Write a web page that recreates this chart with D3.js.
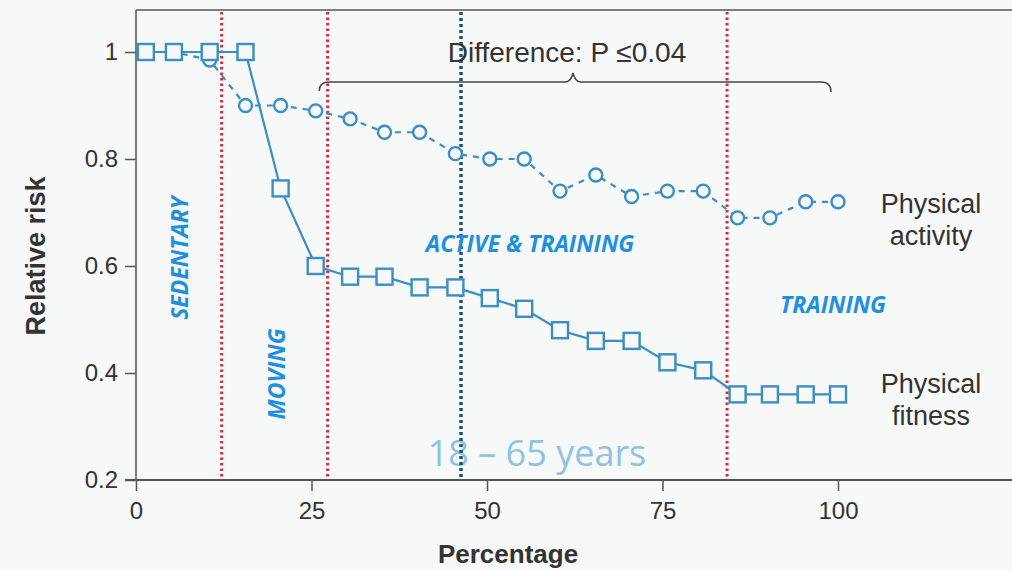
<!DOCTYPE html>
<html><head><meta charset="utf-8">
<script src="https://cdn.jsdelivr.net/npm/d3@7"></script>
<style>
html,body{margin:0;padding:0;background:#f7f8f8;}
svg{display:block;}
</style></head>
<body>
<svg id="chart" width="1012" height="570"></svg>
<script>
// ---- data ----
const percentiles = [1.4, 5.4, 10.5, 15.6, 20.6, 25.6, 30.5, 35.4, 40.4, 45.5, 50.4, 55.3, 60.4, 65.5, 70.6, 75.7, 80.8, 85.7, 90.3, 95.4, 100];
const fitnessRisk = [1.0, 1.0, 1.0, 1.0, 0.745, 0.60, 0.58, 0.58, 0.56, 0.56, 0.54, 0.52, 0.48, 0.46, 0.46, 0.42, 0.405, 0.36, 0.36, 0.36, 0.36];
const activityRisk = [1.0, 1.0, 0.985, 0.90, 0.90, 0.89, 0.875, 0.85, 0.85, 0.81, 0.80, 0.80, 0.74, 0.77, 0.73, 0.74, 0.74, 0.69, 0.69, 0.72, 0.72];
const xTicks = [0, 25, 50, 75, 100];
const yTicks = [0.2, 0.4, 0.6, 0.8, 1];
const zoneBoundaries = [12.2, 27.3, 84.2];
const medianLine = 46.3;
const zoneLabels = ["SEDENTARY", "MOVING", "ACTIVE & TRAINING", "TRAINING"];
const seriesNames = [["Physical", "activity"], ["Physical", "fitness"]];
const diffLabel = "Difference: P \u22640.04";
const braceRange = [26.1, 99];
const ageLabel = "18 \u2013 65 years";

// ---- layout ----
const svg = d3.select("#chart");
const x = d3.scaleLinear().domain([0, 100]).range([136, 838]);
const y = d3.scaleLinear().domain([0.2, 1]).range([480, 52]);
const topY = 10;
const axisCol = "#555";
const seriesCol = "#3a8dc6";
const zoneCol = "#1f8fe0";
const sans = "'Liberation Sans', Arial, sans-serif";

// frame
svg.append("line").attr("x1", x(0)).attr("x2", 1012).attr("y1", topY).attr("y2", topY)
  .attr("stroke", axisCol).attr("stroke-width", 1.5);

// axes
const yAxis = d3.axisLeft(y).tickValues(yTicks).tickFormat(d => d === 1 ? "1" : d3.format(".1f")(d)).tickSize(11).tickPadding(7);
const gy = svg.append("g").attr("transform", `translate(${x(0)},0)`).call(yAxis);
gy.select(".domain").remove();
svg.append("line").attr("x1", x(0)).attr("x2", x(0)).attr("y1", topY).attr("y2", y(0.2))
  .attr("stroke", axisCol).attr("stroke-width", 1.5);

const xAxis = d3.axisBottom(x).tickValues(xTicks).tickSize(11).tickPadding(11);
const gx = svg.append("g").attr("transform", `translate(0,${y(0.2)})`).call(xAxis);
gx.select(".domain").remove();
svg.append("line").attr("x1", x(0) - 11).attr("x2", 1012).attr("y1", y(0.2)).attr("y2", y(0.2))
  .attr("stroke", axisCol).attr("stroke-width", 2);

[gx, gy].forEach(g => {
  g.selectAll(".tick line").attr("stroke", axisCol).attr("stroke-width", 1.5);
  g.selectAll(".tick text").attr("fill", "#333").style("font-family", sans).style("font-size", "24px");
});

// axis titles
svg.append("text").attr("x", 508).attr("y", 563).attr("text-anchor", "middle")
  .style("font-family", sans).style("font-size", "26px").style("font-weight", "bold")
  .attr("fill", "#333").text("Percentage");
svg.append("text").attr("transform", `translate(45,${256}) rotate(-90)`).attr("text-anchor", "middle")
  .style("font-family", sans).style("font-size", "27px").style("font-weight", "bold")
  .attr("fill", "#333").text("Relative risk");

// age label (behind lines)
svg.append("text").attr("x", 537).attr("y", 466).attr("text-anchor", "middle")
  .style("font-family", "'Open Sans', Lato, sans-serif").style("font-size", "36px")
  .attr("fill", "#92c2e2").text(ageLabel);

// zone boundaries
zoneBoundaries.forEach(v => {
  svg.append("line").attr("x1", x(v)).attr("x2", x(v)).attr("y1", topY + 2).attr("y2", y(0.2))
    .attr("stroke", "#d42a3a").attr("stroke-width", 3).attr("stroke-dasharray", "2.5,3");
});
svg.append("line").attr("x1", x(medianLine)).attr("x2", x(medianLine)).attr("y1", topY + 2).attr("y2", y(0.2))
  .attr("stroke", "#1d4f7c").attr("stroke-width", 3.5).attr("stroke-dasharray", "3,3");

// zone labels
const zf = "'Open Sans', Lato, sans-serif";
function zoneText(sel, t) {
  return sel.append("text").attr("text-anchor", "middle")
    .style("font-family", zf).style("font-size", "23px").style("font-weight", "bold").style("font-style", "italic")
    .attr("fill", zoneCol).text(t);
}
zoneText(svg, zoneLabels[0]).attr("transform", `translate(188,258) rotate(-90)`);
zoneText(svg, zoneLabels[1]).attr("transform", `translate(285,374) rotate(-90)`);
zoneText(svg, zoneLabels[2]).attr("x", 530).attr("y", 252);
zoneText(svg, zoneLabels[3]).attr("x", 833).attr("y", 313);

// brace
const bx0 = x(braceRange[0]), bx1 = x(braceRange[1]), bmid = 573, by = 82;
const bracePath = `M${bx0},${by + 9} Q${bx0},${by} ${bx0 + 10},${by} L${bmid - 8},${by} Q${bmid - 2},${by} ${bmid},${by - 9} Q${bmid + 2},${by} ${bmid + 8},${by} L${bx1 - 10},${by} Q${bx1},${by} ${bx1},${by + 10}`;
svg.append("path").attr("d", bracePath).attr("fill", "none").attr("stroke", "#444").attr("stroke-width", 1.5);
svg.append("text").attr("x", 567).attr("y", 62).attr("text-anchor", "middle")
  .style("font-family", sans).style("font-size", "28px")
  .attr("fill", "#333").text(diffLabel);

// series
const actData = percentiles.map((p, i) => [p, activityRisk[i]]);
const fitData = percentiles.map((p, i) => [p, fitnessRisk[i]]);
const line = d3.line().x(d => x(d[0])).y(d => y(d[1]));

svg.append("path").datum(actData).attr("d", line).attr("fill", "none")
  .attr("stroke", seriesCol).attr("stroke-width", 2.2).attr("stroke-dasharray", "6,6");
svg.selectAll("circle.act").data(actData).enter().append("circle").attr("class", "act")
  .attr("cx", d => x(d[0])).attr("cy", d => y(d[1])).attr("r", 6.5)
  .attr("fill", "#f7f8f8").attr("stroke", seriesCol).attr("stroke-width", 2.4);

svg.append("path").datum(fitData).attr("d", line).attr("fill", "none")
  .attr("stroke", seriesCol).attr("stroke-width", 2.2);
const sq = 16;
svg.selectAll("rect.fit").data(fitData).enter().append("rect").attr("class", "fit")
  .attr("x", d => x(d[0]) - sq / 2).attr("y", d => y(d[1]) - sq / 2).attr("width", sq).attr("height", sq)
  .attr("fill", "#f7f8f8").attr("stroke", seriesCol).attr("stroke-width", 2.4);

// series labels
[[seriesNames[0], 213], [seriesNames[1], 393]].forEach(([lines, yy]) => {
  lines.forEach((t, i) => {
    svg.append("text").attr("x", 931).attr("y", yy + i * 32).attr("text-anchor", "middle")
      .style("font-family", sans).style("font-size", "27px").attr("fill", "#333").text(t);
  });
});
</script>
</body></html>
